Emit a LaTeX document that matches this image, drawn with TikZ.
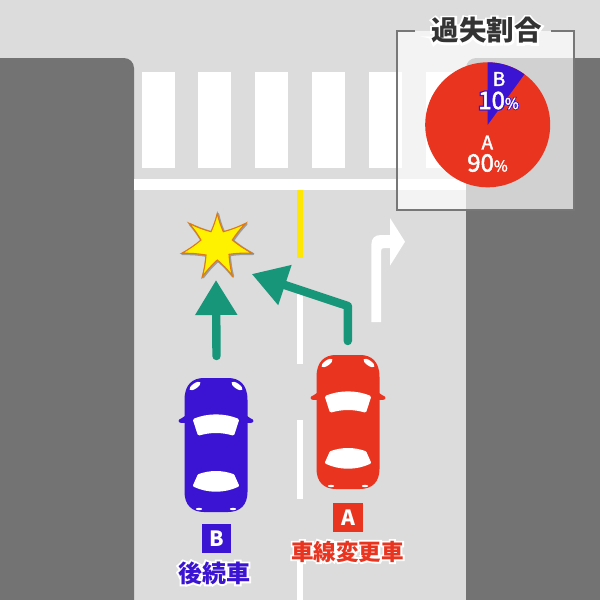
\documentclass[tikz,border=0pt]{standalone}
\usepackage{fontspec}
\usetikzlibrary{arrows.meta}
\newfontfamily\jp{Noto Sans CJK JP}
\newfontfamily\jpmed[FakeBold=2]{Noto Sans CJK JP}
\newfontfamily\jphalo[BoldFeatures={FakeBold=16}]{Noto Sans CJK JP}
\newfontfamily\jphalosmall[FakeBold=13]{Noto Sans CJK JP}
\definecolor{roadgray}{HTML}{DCDCDC}
\definecolor{blockgray}{HTML}{737373}
\definecolor{carred}{HTML}{E93420}
\definecolor{carblue}{HTML}{3A14D2}
\definecolor{teal}{HTML}{17967A}
\definecolor{framegray}{HTML}{777777}
\definecolor{titleink}{HTML}{333333}
\definecolor{starorange}{HTML}{E07A10}
\newcommand\halotext[1]{\makebox[0pt][l]{\textcolor{white}{\jphalo\bfseries #1}}#1}
\tikzset{
  x=1pt,y=-1pt,
  label text/.style={inner sep=0pt},
  tag/.style={inner sep=0pt,minimum width=29.5pt,minimum height=29pt,text=white,font=\jp\bfseries\fontsize{21}{21}\selectfont},
  move arrow/.style={draw=teal,line width=8.4pt,line cap=round,line join=round,-{Triangle[length=35pt,width=40pt]}},
  window/.style={fill=white,draw=white,line width=3pt,line join=round},
  pics/car/.style={code={
    \fill[#1] (-31.5,22) .. controls (-31.5,6) and (-23,0) .. (-12,0) -- (12,0) .. controls (23,0) and (31.5,6) .. (31.5,22)
      -- (31.5,114) .. controls (31.5,127) and (24,134) .. (12,134) -- (-12,134) .. controls (-24,134) and (-31.5,127) .. (-31.5,114) -- cycle;
    \fill[#1] (-31,38) .. controls (-33,41) and (-37,40) .. (-37.5,43) .. controls (-37,45.5) and (-33,45) .. (-30,45) -- cycle;
    \fill[#1] (31,38) .. controls (33,41) and (37,40) .. (37.5,43) .. controls (37,45.5) and (33,45) .. (30,45) -- cycle;
    \path[window] (-21.5,42) .. controls (-8,36.5) and (8,36.5) .. (21.5,42) -- (17,56) .. controls (6,52.7) and (-6,52.7) .. (-17,56) -- cycle;
    \path[window] (-17,97.5) .. controls (-6,93.5) and (6,93.5) .. (17,97.5) -- (21.5,107.5) .. controls (8,113.8) and (-8,113.8) .. (-21.5,107.5) -- cycle;
    \fill[white,rotate around={35:(-21,8)}] (-21,8) ellipse [x radius=6.5,y radius=2.6];
    \fill[white,rotate around={-35:(21,8)}] (21,8) ellipse [x radius=6.5,y radius=2.6];
    \fill[white] (-17,131) ellipse [x radius=3.2,y radius=1.2];
    \fill[white] (17,131) ellipse [x radius=3.2,y radius=1.2];
  }},
}
\begin{document}
\begin{tikzpicture}
\useasboundingbox (0,0) rectangle (600,600);
% ground
\fill[roadgray] (0,0) rectangle (600,600);
\fill[blockgray,rounded corners=10pt] (-20,58) -- (134,58) -- (134,620) -- (-20,620) -- cycle;
\fill[blockgray,rounded corners=10pt] (620,58) -- (466,58) -- (466,620) -- (620,620) -- cycle;
% crosswalk and road marks
\foreach \xa in {141.5,198.3,255.1,311.9,368.7,425.5}
  \fill[white] (\xa,71.5) rectangle (\xa+33,167.5);
\fill[white] (134,179) rectangle (466,189.5);
\fill[yellow!90!orange] (297.3,189.5) rectangle (303.3,257.5);
\fill[white] (297.3,294) rectangle (303.3,364);
\fill[white] (297.3,420) rectangle (303.3,498.5);
\fill[white] (297.3,555) rectangle (303.3,600);
% turn arrow
\fill[white] (371.3,322) -- (371.3,245) .. controls (371.3,238) and (375,235) .. (381,235) -- (390,235) -- (390,218) -- (405,241.7) -- (390,265.7) -- (390,248) -- (384,248) .. controls (382,248) and (381,249) .. (381,251) -- (381,322) -- cycle;
% movement arrows
\coordinate (bstart) at (216.5,356);
\coordinate (btip) at (216,280);
\coordinate (astart) at (347.8,341);
\coordinate (abend) at (347.8,306);
\coordinate (atip) at (251.7,274);
\draw[move arrow] (bstart) -- (btip);
\draw[move arrow] (astart) -- (abend) -- (atip);
% explosion
\def\starpath{(217.3,213.3) to[bend right=5] (223.3,231.7) to[bend right=5] (245.7,223.3) to[bend right=5] (232.3,240) to[bend right=5] (252.3,253.3) to[bend right=5] (229,254.3) to[bend right=5] (232.3,275.7) to[bend right=5] (217.3,260) to[bend right=5] (202.3,276.7) to[bend right=5] (206,255) to[bend right=5] (181.7,253.3) to[bend right=5] (201,240) to[bend right=5] (189,223.3) to[bend right=5] (211,231.7) to[bend right=5] (217.3,213.3) -- cycle}
\draw[blockgray,opacity=.6,line width=2.4pt,line join=round,shift={(0.7,0.7)}] \starpath;
\draw[draw=starorange,fill=yellow,line width=1.1pt,line join=miter] \starpath;
% cars
\pic at (348,355) {car=carred};
\pic at (216,378) {car=carblue};
% labels
\node[tag,fill=carred] (tagA) at (348,517.2) {A};
\node[tag,fill=carblue] (tagB) at (216.3,538.8) {B};
\node[label text,text=carred,font=\jp\bfseries\fontsize{22.5}{24}\selectfont] (nameA) at (347.5,551.5) {\halotext{車線変更車}};
\node[label text,text=carblue,font=\jp\bfseries\fontsize{24}{25}\selectfont] (nameB) at (214,573) {\halotext{後続車}};
% panel
\fill[white,opacity=.68] (396.5,30.5) rectangle (574,209.5);
\draw[framegray,line width=2pt] (415,30.5) -- (396.5,30.5) -- (396.5,209.5) -- (574,209.5) -- (574,30.5) -- (551,30.5);
\node[label text,text=titleink,font=\jp\bfseries\fontsize{27.5}{28}\selectfont] (title) at (486.5,30.5) {\halotext{過失割合}};
% pie
\coordinate (pie) at (487.7,124.8);
\fill[carred] (pie) circle [radius=62.5];
\fill[carblue] (pie) -- (487.7,62.3) arc [start angle=-90,end angle=-54,radius=62.5] -- cycle;
\node[inner sep=0pt,text=white,font=\jpmed\fontsize{19}{20}\selectfont] (pctB) at (499,79) {B};
\node[inner sep=0pt,text=white,font=\jpmed\fontsize{24}{25}\selectfont] (valB) at (498.5,100.5) {\makebox[0pt][l]{\textcolor{carblue}{\jphalosmall 10{\fontsize{15}{15}\selectfont\%}}}10{\fontsize{15}{15}\selectfont\%}};
\node[inner sep=0pt,text=white,font=\jpmed\fontsize{19}{20}\selectfont] (pctA) at (487.3,142.5) {A};
\node[inner sep=0pt,text=white,font=\jpmed\fontsize{24}{25}\selectfont] (valA) at (487.5,163) {90{\fontsize{15}{15}\selectfont\%}};
\end{tikzpicture}
\end{document}
